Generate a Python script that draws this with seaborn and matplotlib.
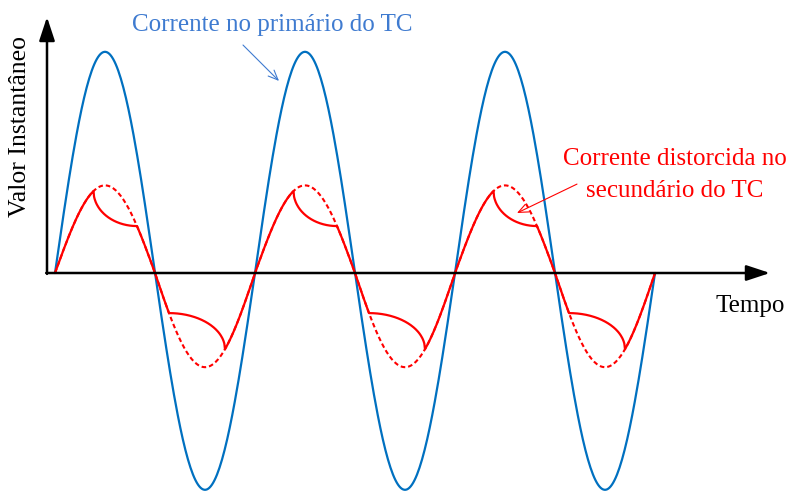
import numpy as np
import pandas as pd
import seaborn as sns
import matplotlib.pyplot as plt

# Waveform description (time in cycles, amplitude relative to the primary peak)
n_cycles = 3
primary_amp = [1.01, 0.99]     # positive / negative peak of primary current
secondary_amp = [0.40, 0.43]   # undistorted secondary current
sat_pos = [0.385, 0.82]        # saturation start / recovery (fraction of half cycle)
sat_neg = [0.14, 0.70]

y_label = "Valor Instantâneo"
x_label = "Tempo"
primary_label = "Corrente no primário do TC"
secondary_label = ["Corrente distorcida no", "secundário do TC"]

pts = 80
primary, ideal, distorted = [], [], []
for k in range(2 * n_cycles):
    sign = 1 if k % 2 == 0 else -1
    u = np.linspace(0, 1, pts)
    primary.append(pd.DataFrame({"t": (k + u) / 2, "v": sign * primary_amp[k % 2] * np.sin(np.pi * u)}))
    a = secondary_amp[k % 2]
    ideal.append(pd.DataFrame({"t": (k + u) / 2, "v": sign * a * np.sin(np.pi * u)}))

    b0, b1 = sat_pos if sign > 0 else sat_neg
    u1 = np.linspace(0, b0, pts)
    u2 = np.linspace(b0, b1, pts)
    u3 = np.linspace(b1, 1, pts)
    v0 = sign * a * np.sin(np.pi * b0)
    v1 = sign * a * np.sin(np.pi * b1)
    if sign > 0:
        w = (b1 - u2) / (b1 - b0)
        y2 = v1 + (v0 - v1) * (1 - np.sqrt(np.clip(1 - w ** 2, 0, None)))
    else:
        w = (u2 - b0) / (b1 - b0)
        y2 = v0 + (v1 - v0) * (1 - np.sqrt(np.clip(1 - w ** 2, 0, None)))
    uu = np.concatenate([u1, u2, u3])
    vv = np.concatenate([sign * a * np.sin(np.pi * u1), y2, sign * a * np.sin(np.pi * u3)])
    distorted.append(pd.DataFrame({"t": (k + uu) / 2, "v": vv}))

primary = pd.concat(primary, ignore_index=True)
ideal = pd.concat(ideal, ignore_index=True)
distorted = pd.concat(distorted, ignore_index=True)

sns.set_style("white")
plt.rcParams["font.family"] = ["Liberation Serif", "DejaVu Serif"]
plt.rcParams["text.color"] = "black"

fig = plt.figure(figsize=(7.92, 4.92), dpi=100)
ax = fig.add_axes([0, 0, 1, 1])

sns.lineplot(data=primary, x="t", y="v", sort=False, estimator=None, color="#0070C0", lw=1.6, ax=ax)
sns.lineplot(data=ideal, x="t", y="v", sort=False, estimator=None, color="red", lw=1.5,
             linestyle=(0, (2.2, 1.4)), ax=ax)
sns.lineplot(data=distorted, x="t", y="v", sort=False, estimator=None, color="red", lw=1.6, ax=ax)

ax.set_xlim(-0.275, 3.685)
ax.set_ylim(-1.0, 1.2466)
ax.axis("off")

# axes with arrow heads
axis_arrow = dict(arrowstyle="-|>,head_length=1.0,head_width=0.33", color="black", lw=1.8,
                  shrinkA=0, shrinkB=0, mutation_scale=14.4)
ax.annotate("", xy=(-0.04, 1.169), xytext=(-0.04, -0.004), arrowprops=axis_arrow)
ax.annotate("", xy=(3.575, 0), xytext=(-0.044, 0), arrowprops=axis_arrow)

ax.text(-0.175, 0.667, y_label, rotation=90, ha="center", va="center", fontsize=18.5, color="black")
ax.text(3.475, -0.178, x_label, ha="center", va="baseline", fontsize=18, color="black")

ax.text(1.085, 1.105, primary_label, ha="center", va="baseline", fontsize=18, color="#3F7BD0")
ax.annotate("", xy=(1.12, 0.877), xytext=(0.94, 1.041),
            arrowprops=dict(arrowstyle="->,head_length=0.7,head_width=0.3", color="#3F7BD0", lw=0.8,
                            shrinkA=0, shrinkB=0))

ax.text(3.1, 0.493, secondary_label[0], ha="center", va="baseline", fontsize=18, color="red")
ax.text(3.1, 0.347, secondary_label[1], ha="center", va="baseline", fontsize=18, color="red")
ax.annotate("", xy=(2.31, 0.274), xytext=(2.61, 0.406),
            arrowprops=dict(arrowstyle="->,head_length=0.7,head_width=0.3", color="red", lw=0.8,
                            shrinkA=0, shrinkB=0))

fig.savefig("out.png", dpi=100)
